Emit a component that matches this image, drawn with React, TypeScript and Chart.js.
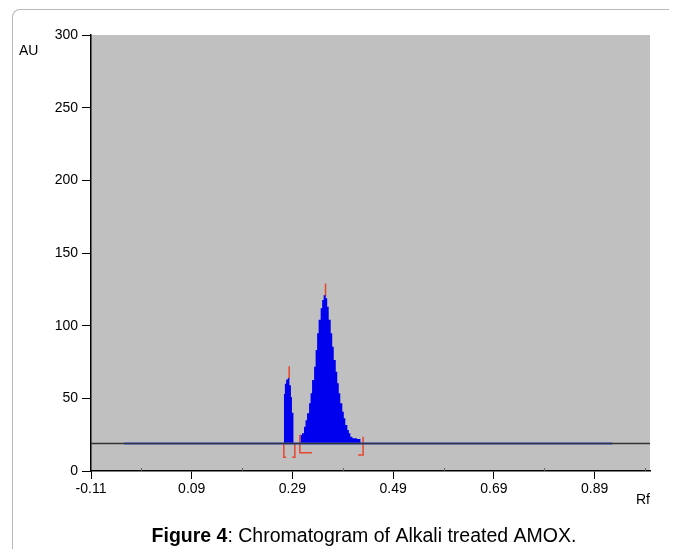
import { useEffect, useRef } from 'react';
import { Chart, registerables } from 'chart.js';

Chart.register(...registerables);

// ---- data ----
const xTickValues = [-0.11, 0.09, 0.29, 0.49, 0.69, 0.89];
const xMinorTicks = [-0.01, 0.19, 0.39, 0.59, 0.79, 0.99];
const yTickValues = [0, 50, 100, 150, 200, 250, 300];
const xRange = [-0.11, 1.0];
const yRange = [0, 300];
const baselineAU = 19;
const blueBaseRange = [-0.044, 0.925];

const peak1Rf = [0.273, 0.275, 0.2775, 0.281, 0.284, 0.287, 0.289, 0.292, 0.295];
const peak1AU = [42, 53, 60, 63, 64, 59, 51, 40, 19];

const peak2Rf = [
  0.306, 0.309, 0.313, 0.316, 0.319, 0.323, 0.326, 0.329, 0.333, 0.336, 0.339, 0.342,
  0.346, 0.349, 0.352, 0.356, 0.359, 0.362, 0.366, 0.369, 0.372, 0.376, 0.379, 0.382,
  0.385, 0.389, 0.392, 0.395, 0.399, 0.402, 0.405, 0.409, 0.412, 0.418, 0.425, 0.43,
];
const peak2AU = [
  23.6, 24.8, 26, 30.5, 35, 39.7, 46.6, 53.5, 62.6, 71.8, 83.3, 94.8,
  104, 112, 117.7, 121, 118.9, 113, 104, 94.8, 85.5, 76.4, 68.3, 60.4,
  53.5, 46.6, 40.8, 36.3, 31.7, 28.2, 26, 23.6, 22.5, 22.5, 22, 19,
];

// red integration markers (Rf, AU); null breaks the path
const markerRf = [
  0.2835, 0.2835, null,
  0.3557, 0.3557, null,
  0.2775, 0.2729, 0.2729, null,
  0.2894, 0.2948, 0.2948, null,
  0.3047, 0.3047, 0.329, null,
  0.4204, 0.4303, 0.4303,
];
const markerAU = [
  64, 72, null,
  120, 129, null,
  9.5, 9.5, 19, null,
  9.5, 9.5, 19, null,
  25, 12.6, 12.6, null,
  11, 11, 23.6,
];

const yTitle = 'AU';
const xTitle = 'Rf';
const captionBold = 'Figure 4';
const captionRest = ': Chromatogram of Alkali treated AMOX.';

const FONT = '"Liberation Sans", Arial, Helvetica, sans-serif';

function pts(xs: (number | null)[], ys: (number | null)[]) {
  return xs.map((x, i) => ({ x: x as number, y: ys[i] as number }));
}

// peak outline closed down to the baseline on both ends
function peakPath(xs: number[], ys: number[], base: number) {
  return [{ x: xs[0] - 1e-4, y: base }, ...pts(xs, ys)];
}

export default function App() {
  const ref = useRef<HTMLCanvasElement | null>(null);

  useEffect(() => {
    const canvas = ref.current;
    if (!canvas) return;

    const decor = {
      id: 'decor',
      beforeDraw(chart: any) {
        const { ctx, chartArea: a } = chart;
        ctx.save();
        ctx.fillStyle = '#c0c0c0';
        ctx.fillRect(a.left, a.top, a.right - a.left, a.bottom - a.top);
        ctx.restore();
      },
      afterDraw(chart: any) {
        const { ctx, chartArea: a, scales } = chart;
        ctx.save();
        ctx.strokeStyle = '#666';
        ctx.lineWidth = 1;
        xMinorTicks.forEach((v) => {
          const px = Math.round(scales.x.getPixelForValue(v)) + 0.5;
          ctx.beginPath();
          ctx.moveTo(px, a.bottom);
          ctx.lineTo(px, a.bottom - 3);
          ctx.stroke();
        });
        ctx.fillStyle = '#000';
        ctx.font = `14px ${FONT}`;
        ctx.textBaseline = 'middle';
        ctx.textAlign = 'left';
        ctx.fillText(yTitle, 19, 51);
        ctx.fillText(xTitle, 636, 500);
        // caption
        const size = 19.5;
        ctx.font = `bold ${size}px ${FONT}`;
        const w1 = ctx.measureText(captionBold).width;
        ctx.font = `${size}px ${FONT}`;
        const w2 = ctx.measureText(captionRest).width;
        const cx = 364;
        const start = cx - (w1 + w2) / 2;
        ctx.font = `bold ${size}px ${FONT}`;
        ctx.fillText(captionBold, start, 537);
        ctx.font = `${size}px ${FONT}`;
        ctx.fillText(captionRest, start + w1, 537);
        ctx.restore();
      },
    };

    const peakStyle = {
      borderColor: '#0000ee',
      backgroundColor: '#0000ee',
      borderWidth: 0,
      pointRadius: 0,
      stepped: 'after',
      tension: 0,
      fill: { value: baselineAU },
    };

    const chart = new Chart(canvas, {
      type: 'line',
      data: {
        datasets: [
          {
            data: pts(xRange, [baselineAU, baselineAU]),
            borderColor: '#333333',
            borderWidth: 1.5,
            pointRadius: 0,
            fill: false,
          },
          {
            data: pts(blueBaseRange, [baselineAU, baselineAU]),
            borderColor: '#3f5cf0',
            borderWidth: 2,
            pointRadius: 0,
            fill: false,
          },
          { data: peakPath(peak1Rf, peak1AU, baselineAU), ...peakStyle },
          { data: peakPath(peak2Rf, peak2AU, baselineAU), ...peakStyle },
          {
            data: pts(markerRf, markerAU),
            borderColor: '#e8452c',
            borderWidth: 1.5,
            pointRadius: 0,
            spanGaps: false,
            fill: false,
          },
        ],
      },
      options: {
        animation: false,
        responsive: false,
        devicePixelRatio: 1,
        parsing: false as any,
        layout: { padding: { left: 0, top: 35, right: 27, bottom: 0 } },
        plugins: {
          legend: { display: false },
          tooltip: { enabled: false },
        },
        scales: {
          x: {
            type: 'linear',
            min: xRange[0],
            max: xRange[1],
            afterBuildTicks: (s: any) => {
              s.ticks = xTickValues.map((v) => ({ value: v }));
            },
            afterFit: (s: any) => {
              s.height = 86;
            },
            ticks: {
              callback: (v: any) => Number(v).toFixed(2),
              color: '#000',
              font: { family: FONT, size: 14 },
              padding: 2,
              maxRotation: 0,
              autoSkip: false,
            },
            grid: {
              drawOnChartArea: false,
              drawTicks: true,
              tickLength: 8,
              color: '#000',
            },
            border: { color: '#000', width: 1.5 },
          },
          y: {
            type: 'linear',
            min: yRange[0],
            max: yRange[1],
            afterBuildTicks: (s: any) => {
              s.ticks = yTickValues.map((v) => ({ value: v }));
            },
            afterFit: (s: any) => {
              s.width = 91;
            },
            ticks: {
              color: '#000',
              font: { family: FONT, size: 14 },
              padding: 4,
            },
            grid: {
              drawOnChartArea: false,
              drawTicks: true,
              tickLength: 9,
              color: '#000',
            },
            border: { color: '#000', width: 1.5 },
          },
        },
      },
      plugins: [decor],
    } as any);

    return () => chart.destroy();
  }, []);

  return (
    <div
      style={{
        position: 'relative',
        margin: -8,
        width: 677,
        height: 557,
        overflow: 'hidden',
        background: '#fff',
      }}
    >
      <div
        style={{
          position: 'absolute',
          left: 12,
          top: 9,
          width: 700,
          height: 600,
          borderLeft: '1.5px solid #b8b8b8',
          borderTop: '1.5px solid #b8b8b8',
          borderTopLeftRadius: 8,
          boxSizing: 'border-box',
        }}
      />
      <canvas
        ref={ref}
        width={677}
        height={557}
        style={{ position: 'absolute', left: 0, top: 0, display: 'block' }}
      />
    </div>
  );
}
